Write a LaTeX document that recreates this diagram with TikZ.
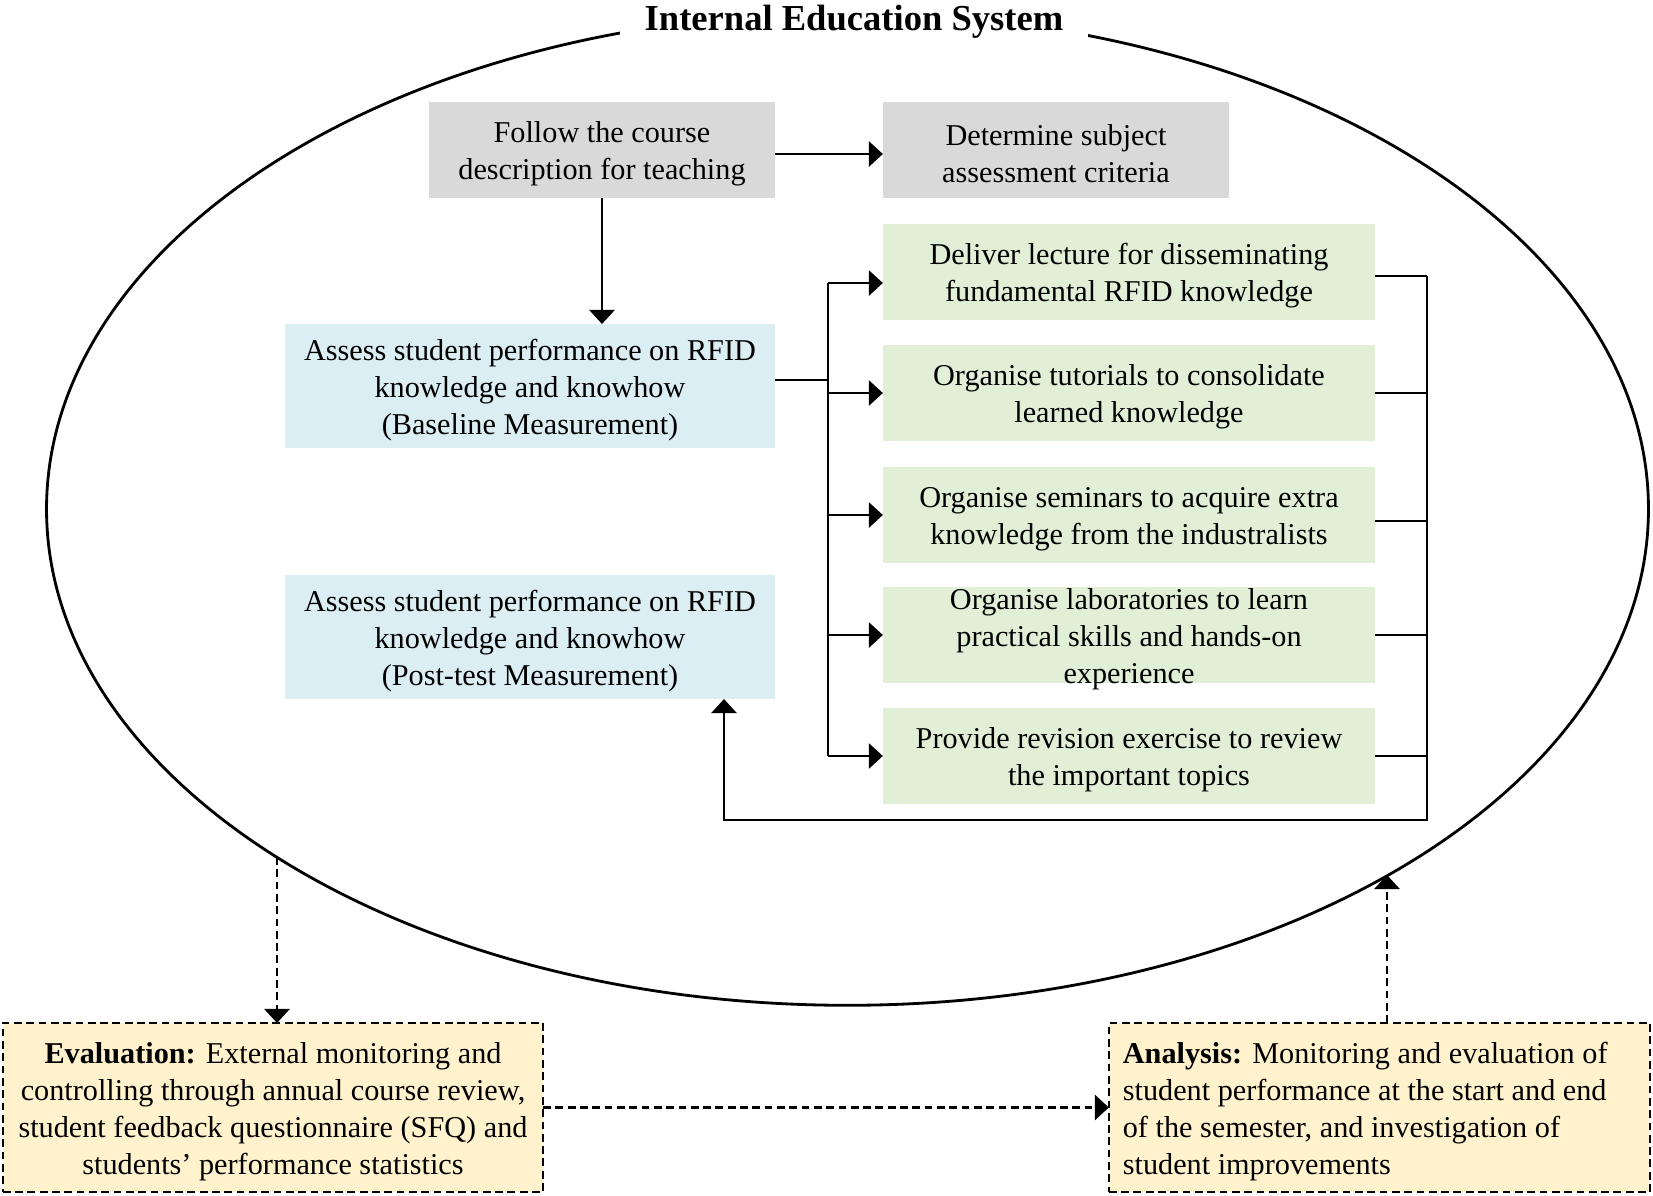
\documentclass[tikz,border=0pt]{standalone}
\usepackage{fontspec}
\setmainfont{Liberation Serif}
\usetikzlibrary{arrows.meta,shapes.geometric}
\definecolor{boxgray}{HTML}{D9D9D9}
\definecolor{boxblue}{HTML}{DAEEF3}
\definecolor{boxgreen}{HTML}{E0EFD6}
\definecolor{boxyellow}{HTML}{FFF2CC}
\begin{document}
\begin{tikzpicture}[x=0.01cm,y=-0.01cm,
  txt/.style={font=\fontsize{8.6}{10.5}\selectfont, align=center, inner sep=0pt, outer sep=0pt},
  tx/.style={label={[txt, yshift=-0.04cm]center:{#1}}},
  box/.style={inner sep=0pt, outer sep=0pt},
  graybox/.style={box, fill=boxgray, minimum width=3.46cm, minimum height=0.96cm},
  bluebox/.style={box, fill=boxblue, minimum width=4.90cm, minimum height=1.24cm},
  greenbox/.style={box, fill=boxgreen, minimum width=4.92cm, minimum height=0.95cm},
  dsh/.style={dash pattern=on 2.2pt off 1.3pt, line width=0.7pt},
  yelbox/.style={box, draw, dsh, fill=boxyellow, minimum width=5.40cm, minimum height=1.69cm},
  conn/.style={line width=0.6pt},
  arr/.style={conn, -{Triangle[length=4pt,width=7.2pt]}},
]
\useasboundingbox (0,0) rectangle (1653,1196);
% system ellipse
\node[draw, ellipse, line width=0.8pt, minimum width=16.01cm, minimum height=9.92cm, inner sep=0pt, outer sep=0pt] (sys) at (847.5,509) {};
\node[fill=white, font=\bfseries\fontsize{10.4}{12}\selectfont, minimum width=4.68cm, minimum height=0.50cm, inner sep=0pt] (title) at (854,22) {Internal Education System};
% boxes
\node[graybox, tx={Follow the course\\description for teaching}] (follow) at (602,150) {};
\node[graybox, tx={Determine subject\\assessment criteria}] (determine) at (1056,150) {};
\node[bluebox, tx={Assess student performance on RFID\\knowledge and knowhow\\(Baseline Measurement)}] (base) at (530,386) {};
\node[bluebox, tx={Assess student performance on RFID\\knowledge and knowhow\\(Post-test Measurement)}] (post) at (530,637) {};
\node[greenbox, tx={Deliver lecture for disseminating\\fundamental RFID knowledge}] (g1) at (1129,272) {};
\node[greenbox, tx={Organise tutorials to consolidate\\learned knowledge}] (g2) at (1129,393) {};
\node[greenbox, tx={Organise seminars to acquire extra\\knowledge from the industralists}] (g3) at (1129,515) {};
\node[greenbox, tx={Organise laboratories to learn\\practical skills and hands-on\\experience}] (g4) at (1129,635) {};
\node[greenbox, tx={Provide revision exercise to review\\the important topics}] (g5) at (1129,756) {};
\node[yelbox, tx={\textbf{Evaluation:} External monitoring and\\controlling through annual course review,\\student feedback questionnaire (SFQ) and\\students’ performance statistics}] (eval) at (273,1107.5) {};
\node[yelbox, minimum width=5.41cm, label={[txt, yshift=-0.04cm, text width=5.13cm, align=flush left]center:{\textbf{Analysis:} Monitoring and evaluation of\\student performance at the start and end\\of the semester, and investigation of\\student improvements}}] (anal) at (1379.5,1107.5) {};
% connectors
\coordinate (lt) at (828,380);
\coordinate (rt) at (1427,820);
\coordinate (bl) at (724,820);
\coordinate (eL) at (277,857);
\coordinate (eR) at (1387,875);
\draw[arr] ([yshift=-0.04cm]follow.east) -- ([yshift=-0.04cm]determine.west);
\draw[arr] (follow.south) -- (follow.south |- base.north);
\draw[conn] (base.east |- lt) -- (lt);
\draw[conn] (lt |- 0,283) -- (lt |- g5);
\draw[arr] (lt |- 0,283) -- (g1.west |- 0,283);
\foreach \g in {g2,g3,g4,g5}{
  \draw[arr] (lt |- \g) -- (\g.west);
}
\draw[conn] (g1.east |- 0,276) -- (rt |- 0,276);
\draw[conn] (g3.east |- 0,521) -- (rt |- 0,521);
\foreach \g in {g2,g4,g5}{
  \draw[conn] (\g.east) -- (\g.east -| rt);
}
\draw[arr] (rt |- 0,276) -- (rt) -- (bl) -- (bl |- post.south);
% dashed loop
\draw[arr, dsh] (eL) -- (eL |- eval.north);
\draw[arr, dsh] (eval.east) -- (anal.west);
\draw[arr, dsh] (eR |- anal.north) -- (eR);
\end{tikzpicture}
\end{document}
